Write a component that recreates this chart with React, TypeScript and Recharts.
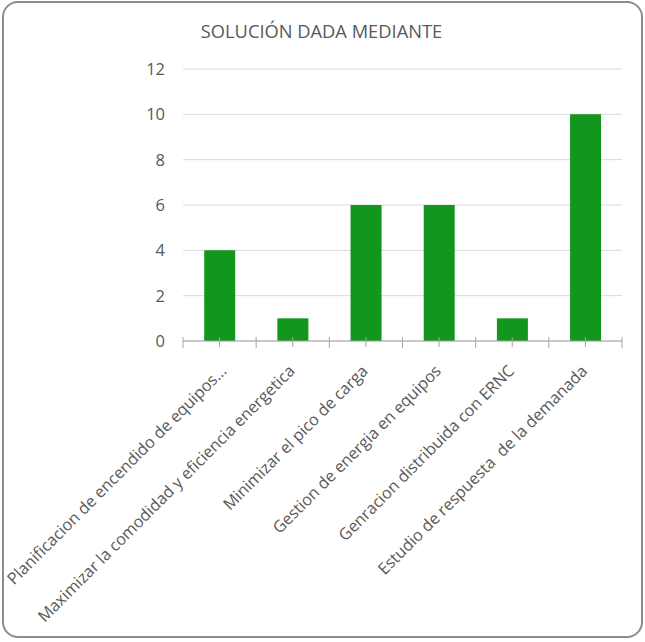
import { BarChart, Bar, XAxis, YAxis, CartesianGrid } from 'recharts'

const categories = [
  'Planificacion de encendido de equipos...',
  'Maximizar la comodidad y eficiencia energetica',
  'Minimizar el pico de carga',
  'Gestion de energia en equipos',
  'Genracion distribuida con ERNC',
  'Estudio de respuesta  de la demanada',
]
const values = [4, 1, 6, 6, 1, 10]
const yTicks = [0, 2, 4, 6, 8, 10, 12]

const data = categories.map((name, i) => ({ name, value: values[i] }))

const W = 645
const H = 642
const M = { top: 69, right: 23, left: 0, bottom: 0 }
const Y_W = 183
const X_H = 301
const FONT = '"Open Sans", sans-serif'
const TXT = '#595959'
const AXIS = '#a6a6a6'

function CatTick(props: any) {
  const { x, y, payload, index, visibleTicksCount } = props
  const half = payload?.offset || (W - M.right - Y_W) / categories.length / 2
  const isLast = index === (visibleTicksCount ?? categories.length) - 1
  // the first (truncated) label sits a bit further right, as in the source
  const tx = x + (index === 0 ? 8 : 3)
  const ty = y + 31
  return (
    <g>
      <line x1={x} x2={x} y1={y - 4} y2={y + 6} stroke={AXIS} />
      <line x1={x - half} x2={x - half} y1={y - 4} y2={y + 7} stroke={AXIS} />
      {isLast && <line x1={x + half} x2={x + half} y1={y - 4} y2={y + 7} stroke={AXIS} />}
      <text
        x={tx}
        y={ty}
        textAnchor="end"
        transform={`rotate(-45 ${tx} ${ty})`}
        fill={TXT}
        fontSize={16.2}
        fontFamily={FONT}
        style={{ whiteSpace: 'pre' }}
      >
        {payload.value}
      </text>
    </g>
  )
}

export default function App() {
  return (
    <div style={{ position: 'absolute', left: 0, top: 0, width: W, height: H, background: '#fff' }}>
      <div
        style={{
          position: 'absolute', left: 2, top: 1, width: 641, height: 637,
          border: '2px solid #8c8c8c', borderRadius: 16, boxSizing: 'border-box',
        }}
      />
      <div
        style={{
          position: 'absolute', left: 0, width: W - 2, top: 17, textAlign: 'center',
          fontFamily: FONT, fontSize: 18.3, color: TXT, lineHeight: '28px',
        }}
      >
        SOLUCIÓN DADA MEDIANTE
      </div>
      <div style={{ position: 'absolute', left: 0, top: 0 }}>
        <BarChart width={W} height={H} data={data} margin={M} barCategoryGap="29%">
          <CartesianGrid vertical={false} stroke="#d9d9d9" />
          <XAxis
            dataKey="name"
            interval={0}
            height={X_H}
            stroke={AXIS}
            tickLine={false}
            tickSize={0}
            tickMargin={0}
            tick={<CatTick />}
          />
          <YAxis
            width={Y_W}
            domain={[0, 12]}
            ticks={yTicks}
            axisLine={false}
            tickLine={false}
            tick={{ fill: TXT, fontSize: 16.5, fontFamily: FONT }}
            tickMargin={12}
          />
          <Bar dataKey="value" fill="#12961e" isAnimationActive={false} />
        </BarChart>
      </div>
    </div>
  )
}
